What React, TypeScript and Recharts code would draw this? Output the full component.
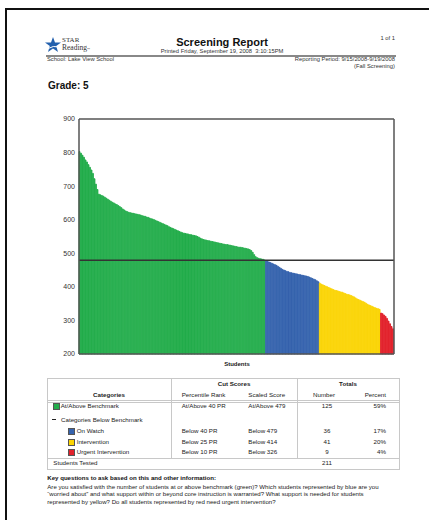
import React from "react";
import { BarChart, Bar, XAxis, YAxis, ReferenceLine, Cell } from "recharts";

// scaled scores, sorted high to low, one bar per student
const atAbove = [
  803, 798, 792, 786, 778, 772, 764, 756, 748, 738,
  722, 706, 690, 676, 674, 672, 670, 667, 664, 661,
  658, 655, 652, 650, 647, 645, 642, 639, 636, 632,
  629, 626, 624, 622, 621, 620, 619, 618, 617, 616,
  615, 614, 612, 611, 610, 608, 607, 605, 603, 602,
  600, 598, 596, 594, 592, 590, 588, 586, 584, 582,
  579, 577, 575, 573, 571, 569, 567, 565, 563, 561,
  560, 559, 558, 557, 556, 555, 554, 553, 552, 550,
  548, 545, 543, 541, 540, 539, 538, 537, 536, 535,
  534, 533, 532, 531, 530, 529, 528, 527, 526, 526,
  525, 524, 523, 522, 521, 520, 519, 518, 518, 517,
  516, 515, 514, 513, 511, 508, 503, 496, 490, 487,
  485, 484, 483, 482, 480,
];
const onWatch = [
  478, 476, 474, 472, 470, 468, 466, 464, 461, 458,
  455, 452, 450, 448, 446, 445, 443, 442, 441, 440,
  439, 438, 437, 436, 435, 434, 433, 432, 431, 429,
  427, 425, 423, 421, 418, 415,
];
const intervention = [
  411, 408, 406, 404, 402, 400, 398, 396, 394, 392,
  390, 389, 388, 386, 385, 384, 382, 380, 378, 377,
  376, 374, 372, 370, 367, 364, 362, 360, 358, 356,
  354, 351, 348, 346, 344, 342, 340, 338, 336, 335,
  333,
];
const urgent = [322, 320, 316, 312, 306, 298, 290, 282, 275];

const yTicks = [200, 300, 400, 500, 600, 700, 800, 900];
const benchmark = 479;

const catNames = ["At/Above Benchmark", "On Watch", "Intervention", "Urgent Intervention"];
const catColors = ["#22ad4b", "#3563ae", "#fbd402", "#e2212b"];
const prCuts = ["At/Above 40 PR", "Below 40 PR", "Below 25 PR", "Below 10 PR"];
const ssCuts = ["At/Above 479", "Below 479", "Below 414", "Below 326"];
const counts = [125, 36, 41, 9];
const percents = ["59%", "17%", "20%", "4%"];
const tested = 211;

const groups = [atAbove, onWatch, intervention, urgent];
const rows = groups.flatMap((g, gi) => g.map((v) => ({ score: v, fill: catColors[gi] })));
const data = rows.map((r, i) => ({ ...r, id: i + 1 }));

const FONT = "'Liberation Sans', Arial, sans-serif";

function T({ x, y, size = 6, bold = false, align = "left", color = "#222", children, font = FONT }: any) {
  const style: any = {
    position: "absolute",
    top: y - size / 2,
    fontSize: size,
    lineHeight: `${size}px`,
    fontWeight: bold ? 700 : 400,
    fontFamily: font,
    color,
    whiteSpace: "nowrap",
  };
  if (align === "left") style.left = x;
  if (align === "right") style.right = 429 - x;
  if (align === "center") {
    style.left = x;
    style.transform = "translateX(-50%)";
  }
  return <div style={style}>{children}</div>;
}

function Line({ x, y, w, h, c = "#c8c8c8" }: any) {
  return <div style={{ position: "absolute", left: x, top: y, width: w, height: h, background: c }} />;
}

function Swatch({ x, y, color }: any) {
  return (
    <div
      style={{
        position: "absolute",
        left: x,
        top: y - 3,
        width: 5,
        height: 5,
        background: color,
        border: "0.6px solid #555",
      }}
    />
  );
}

function Chart() {
  const axisLine = { stroke: "#555", strokeWidth: 1.5 };
  return (
    <div style={{ position: "absolute", left: 30, top: 110 }}>
      <BarChart
        width={370}
        height={260}
        data={data}
        margin={{ top: 8, right: 5, bottom: 15, left: 0 }}
        barCategoryGap={0}
        barGap={0}
      >
        <XAxis dataKey="id" tick={false} tickLine={false} height={1} axisLine={axisLine} />
        <XAxis xAxisId="top" orientation="top" dataKey="id" tick={false} tickLine={false} height={1} axisLine={axisLine} />
        <YAxis
          domain={[200, 900]}
          ticks={yTicks}
          type="number"
          width={49}
          tickLine={false}
          tickSize={2}
          tickMargin={2}
          axisLine={axisLine}
          tick={{ fontSize: 7, fill: "#333", fontFamily: FONT }}
        />
        <YAxis yAxisId="right" orientation="right" domain={[200, 900]} tick={false} tickLine={false} width={1} axisLine={axisLine} />
        <Bar dataKey="score" isAnimationActive={false}>
          {data.map((d) => (
            <Cell key={d.id} fill={d.fill} stroke={d.fill} strokeWidth={0.9} />
          ))}
        </Bar>
        <ReferenceLine y={benchmark} stroke="#333" strokeWidth={1.5} />
      </BarChart>
    </div>
  );
}

export default function App() {
  const rowY = [406.3, 431.3, 442, 452.3];
  return (
    <div style={{ position: "absolute", left: 0, top: 0, width: 429, height: 520, background: "#fff", overflow: "hidden", fontFamily: FONT }}>
      {/* page edge */}
      <Line x={5} y={8} w={2} h={512} c="#111" />
      <Line x={5} y={8} w={424} h={2} c="#111" />

      {/* logo */}
      <svg style={{ position: "absolute", left: 45, top: 37 }} width={16} height={15} viewBox="0 0 16 15">
        <polygon points="8,0 10,5.5 16,5.6 11.2,9 13,15 8,11.4 3,15 4.8,9 0,5.6 6,5.5" fill="#2360ad" />
        <path d="M2 12 Q8 8 15 10" stroke="#fff" strokeWidth={1} fill="none" />
      </svg>
      <T x={62} y={40.5} size={7} font="'Liberation Serif', serif" color="#333">STAR</T>
      <T x={62} y={48} size={7.5} font="'Liberation Serif', serif" color="#333">Reading<span style={{ fontSize: 3 }}>™</span></T>

      <T x={222} y={42} size={11} bold align="center" color="#111">Screening Report</T>
      <T x={222} y={51.5} size={5.8} align="center" color="#333">Printed Friday, September 19, 2008&nbsp; 3:10:15PM</T>
      <T x={395} y={39} size={5.8} align="right" color="#333">1 of 1</T>
      <Line x={46} y={55} w={350} h={1.5} c="#888" />
      <T x={47} y={60} size={5.8} color="#333">School: Lake View School</T>
      <T x={395} y={60} size={5.8} align="right" color="#333">Reporting Period: 9/15/2008-9/19/2008</T>
      <T x={395} y={66.5} size={5.8} align="right" color="#333">(Fall Screening)</T>

      <T x={48} y={86} size={10} bold color="#111">Grade: 5</T>

      <Chart />
      <T x={237} y={364} size={6} bold align="center" color="#222">Students</T>

      {/* summary table */}
      <div style={{ position: "absolute", left: 46.5, top: 378, width: 351, height: 90, border: "1px solid #c8c8c8" }} />
      <Line x={170.5} y={378} w={1} h={80} />
      <Line x={296.5} y={378} w={1} h={80} />
      <Line x={46.5} y={400} w={352} h={0.8} />
      <Line x={46.5} y={402} w={352} h={0.8} />
      <Line x={46.5} y={458} w={352} h={1} />

      <T x={234} y={384.3} size={6.2} bold align="center">Cut Scores</T>
      <T x={348} y={384.3} size={6.2} bold align="center">Totals</T>
      <T x={109} y={395} size={6.2} bold align="center">Categories</T>
      <T x={181.7} y={395} size={6.2}>Percentile Rank</T>
      <T x={248.3} y={395} size={6.2}>Scaled Score</T>
      <T x={335} y={395} size={6.2} align="right">Number</T>
      <T x={386} y={395} size={6.2} align="right">Percent</T>

      <Line x={52} y={419.2} w={4} h={1.2} c="#222" />
      <T x={61} y={419.7} size={6.2}>Categories Below Benchmark</T>

      {catNames.map((name, i) => {
        const sx = i === 0 ? 52.7 : 68.3;
        const tx = i === 0 ? 60.7 : 76.7;
        return (
          <React.Fragment key={name}>
            <Swatch x={sx} y={rowY[i]} color={catColors[i]} />
            <T x={tx} y={rowY[i]} size={6.2}>{name}</T>
            <T x={181.7} y={rowY[i]} size={6.2}>{prCuts[i]}</T>
            <T x={248.3} y={rowY[i]} size={6.2}>{ssCuts[i]}</T>
            <T x={327} y={rowY[i]} size={6.2} align="center">{counts[i]}</T>
            <T x={386} y={rowY[i]} size={6.2} align="right">{percents[i]}</T>
          </React.Fragment>
        );
      })}
      <T x={53.3} y={463.3} size={6.2}>Students Tested</T>
      <T x={327} y={463.3} size={6.2} align="center">{tested}</T>

      <T x={47.3} y={477.7} size={6.1} bold color="#111">Key questions to ask based on this and other information:</T>
      <T x={47.3} y={486.7} size={6.1}>Are you satisfied with the number of students at or above benchmark (green)? Which students represented by blue are you</T>
      <T x={47.3} y={494.3} size={6.1}>“worried about” and what support within or beyond core instruction is warranted? What support is needed for students</T>
      <T x={47.3} y={501.7} size={6.1}>represented by yellow? Do all students represented by red need urgent intervention?</T>
    </div>
  );
}
